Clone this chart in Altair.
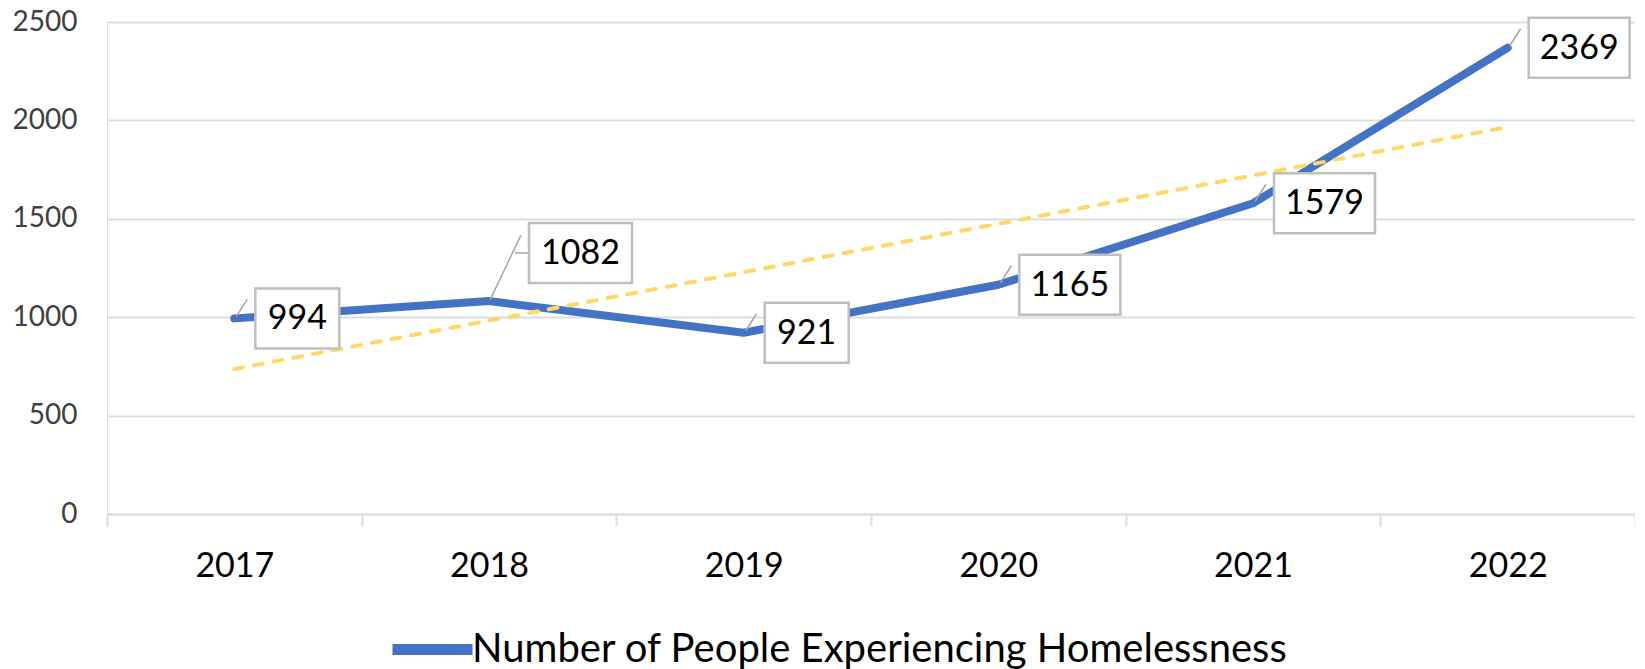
import altair as alt
import pandas as pd

# ---- data ----
years = [2017, 2018, 2019, 2020, 2021, 2022]
values = [994, 1082, 921, 1165, 1579, 2369]
series_name = "Number of People Experiencing Homelessness"
y_ticks = [0, 500, 1000, 1500, 2000, 2500]
raised_label_year = 2018  # label drawn above-right with an elbow leader

df = pd.DataFrame({"year": years, "value": values, "series": [series_name] * len(years)})

FONT = "Lato"
BLUE = "#4472C4"
GOLD = "#FFD966"
GRID = "#D9DEE5"
BOX = "#BFBFBF"
LEADER = "#A6A6A6"

x_enc = alt.X(
    "year:O",
    scale=alt.Scale(type="band", paddingInner=0, paddingOuter=0),
    axis=alt.Axis(title=None, labelAngle=0, labelFont=FONT, labelFontSize=34, labelColor="#000000",
                  labelPadding=23, tickBand="extent", ticks=True, tickSize=12, tickColor=GRID,
                  tickWidth=2, domain=True, domainColor=GRID, domainWidth=2, grid=False),
)
y_enc = alt.Y(
    "value:Q",
    scale=alt.Scale(domain=[0, 2500], nice=False),
    axis=alt.Axis(title=None, values=y_ticks, format="d", labelFont=FONT, labelFontSize=28,
                  labelColor="#404040", labelPadding=30, ticks=False, domain=False, grid=True,
                  gridColor=GRID, gridWidth=2),
)

base = alt.Chart(df).encode(x=x_enc, y=y_enc)

line = base.mark_line(strokeWidth=8, strokeCap="round", strokeJoin="round").encode(
    color=alt.Color(
        "series:N",
        scale=alt.Scale(range=[BLUE]),
        legend=alt.Legend(title=None, orient="none", legendX=280, legendY=582, direction="horizontal",
                          symbolType="stroke", symbolSize=6400, symbolStrokeWidth=11,
                          labelFont=FONT, labelFontSize=40, labelColor="#000000", labelLimit=0,
                          labelOffset={"expr": "-6"}, padding=0),
    )
)

trend = base.transform_regression("year", "value").mark_line(
    color=GOLD, strokeWidth=4, strokeDash=[9, 11], strokeCap="round"
)

normal = f"datum.year != {raised_label_year}"
raised = f"datum.year == {raised_label_year}"

leaders = base.transform_filter(normal).mark_point(
    shape="M2,-2L13,-19", size=4, filled=False, stroke=LEADER, strokeWidth=1.5, opacity=1
)
leader_raised = base.transform_filter(raised).mark_point(
    shape="M1,-1L32,-66M26,-48L40,-48", size=4, filled=False, stroke=LEADER, strokeWidth=1.5, opacity=1
)

box4 = base.transform_filter(normal + " && datum.value >= 1000").mark_point(
    shape="M21,-30L122,-30L122,30L21,30Z", size=4, filled=True, fill="white",
    stroke=BOX, strokeWidth=2.5, opacity=1
)
box3 = base.transform_filter(normal + " && datum.value < 1000").mark_point(
    shape="M21,-30L105,-30L105,30L21,30Z", size=4, filled=True, fill="white",
    stroke=BOX, strokeWidth=2.5, opacity=1
)
box_raised = base.transform_filter(raised).mark_point(
    shape="M40,-78L143,-78L143,-18L40,-18Z", size=4, filled=True, fill="white",
    stroke=BOX, strokeWidth=2.5, opacity=1
)

text_style = dict(font=FONT, fontSize=34, color="#000000", align="center", baseline="middle")
text4 = base.transform_filter(normal + " && datum.value >= 1000").mark_text(dx=71.5, dy=1, **text_style).encode(
    text="value:Q")
text3 = base.transform_filter(normal + " && datum.value < 1000").mark_text(dx=63, dy=1, **text_style).encode(
    text="value:Q")
text_raised = base.transform_filter(raised).mark_text(dx=91.5, dy=-47, **text_style).encode(text="value:Q")

chart = (
    alt.layer(line, trend, leaders, leader_raised, box4, box3, box_raised, text4, text3, text_raised)
    .properties(width=1528, height=492, autosize=alt.AutoSizeParams(type="none"),
                padding={"left": 99, "top": 14, "right": 0, "bottom": 163})
    .configure_view(stroke=None)
    .configure(background="white")
)

chart.save("out.html", embed_options={"renderer": "svg", "actions": False})
